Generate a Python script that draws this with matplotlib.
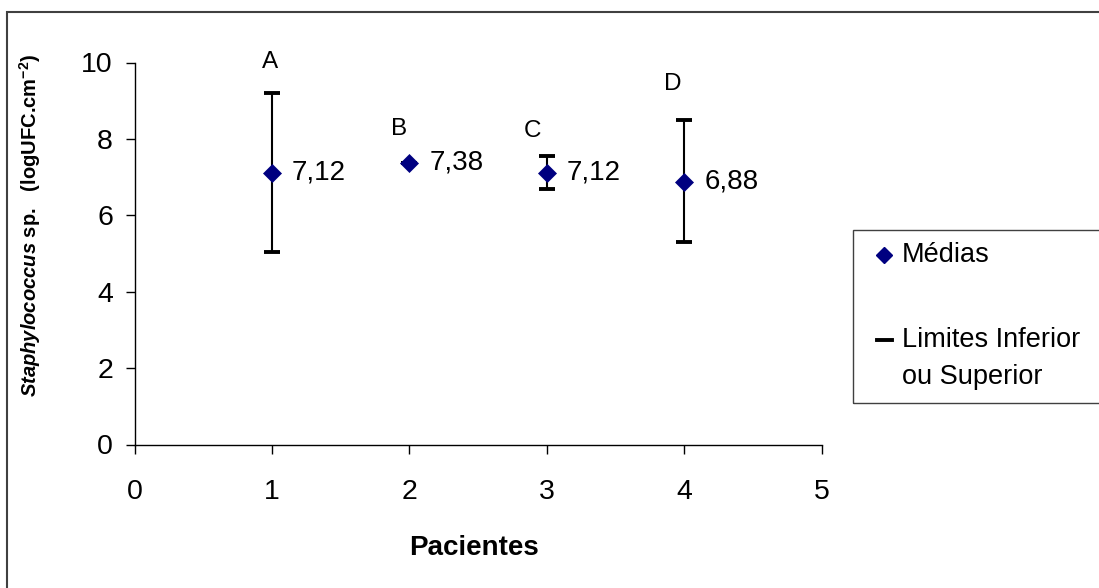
import matplotlib
matplotlib.use("Agg")
import matplotlib.pyplot as plt
from matplotlib.patches import Rectangle
from matplotlib.lines import Line2D

plt.rcParams['font.family'] = ['Liberation Sans', 'DejaVu Sans']
plt.rcParams['mathtext.fontset'] = 'custom'
plt.rcParams['mathtext.rm'] = 'Liberation Sans'
plt.rcParams['mathtext.bf'] = 'Liberation Sans:bold'
plt.rcParams['mathtext.it'] = 'Liberation Sans:italic'
plt.rcParams['mathtext.bfit'] = 'Liberation Sans:bold:italic'

# Dados: médias e limites (logUFC.cm-2) por paciente
pacientes = [1, 2, 3, 4]
letras = ["A", "B", "C", "D"]
medias = [7.12, 7.38, 7.12, 6.88]
lim_sup = [9.20, 7.38, 7.56, 8.50]
lim_inf = [5.05, 7.38, 6.70, 5.30]
rotulos = ["7,12", "7,38", "7,12", "6,88"]

# deslocamento das letras (px) em relação ao topo de cada barra
desl_letra = [(-2, 31), (-10, 34), (-14, 25), (-12, 36)]

W, H = 1099, 588
fig = plt.figure(figsize=(W / 100, H / 100), dpi=100)
ax = fig.add_axes([134.5 / W, 1 - 444.5 / H, (821.7 - 134.5) / W, 382 / H])

navy = '#000080'
err_baixo = [m - li for m, li in zip(medias, lim_inf)]
err_cima = [ls - m for m, ls in zip(medias, lim_sup)]
ax.errorbar(pacientes, medias, yerr=[err_baixo, err_cima], fmt='none',
            ecolor='black', elinewidth=1.5, capsize=6, capthick=2.8, zorder=2)
ax.plot(pacientes, medias, linestyle='none', marker='D', markersize=9.5,
        color=navy, markeredgewidth=0.5, zorder=3)

for x, m, ls, txt, let, (dx, dy) in zip(pacientes, medias, lim_sup, rotulos, letras, desl_letra):
    ax.annotate(txt, xy=(x, m), xytext=(20 * 0.72, 0), textcoords='offset points',
                ha='left', va='center', fontsize=20)
    ax.annotate(let, xy=(x, ls), xytext=(dx * 0.72, dy * 0.72), textcoords='offset points',
                ha='center', va='center', fontsize=17.5)

ax.set_xlim(0, 5)
ax.set_ylim(0, 10)
ax.set_xticks(range(0, 6))
ax.set_yticks(range(0, 11, 2))
for s in ['top', 'right']:
    ax.spines[s].set_visible(False)
for s in ['left', 'bottom']:
    ax.spines[s].set_linewidth(1.0)
ax.tick_params(axis='both', direction='out', length=6.5, width=1.0, labelsize=20.5)
ax.tick_params(axis='y', pad=9)
ax.tick_params(axis='x', pad=18)

fig.text(474 / W, 1 - 548 / H, 'Pacientes', ha='center', va='center',
         fontsize=20, fontweight='bold')
fig.text(30 / W, 1 - 225 / H,
         r'$\mathbfit{Staphylococcus}$ sp.   (logUFC.cm$^{\mathbf{-2}}$)',
         rotation=90, ha='center', va='center', fontsize=14.5, fontweight='bold')

# moldura externa
fig.add_artist(Rectangle((7 / W, -0.05), 1.1, 1 - 12 / H + 0.05, transform=fig.transFigure,
                         fill=False, edgecolor='#404040', linewidth=1.5, clip_on=False))

# legenda
fig.add_artist(Rectangle((853 / W, 1 - 403 / H), 0.3, 173 / H, transform=fig.transFigure,
                         fill=False, edgecolor='#404040', linewidth=1.0, clip_on=False))
fig.add_artist(Line2D([884 / W], [1 - 255 / H], transform=fig.transFigure, marker='D',
                      markersize=8.5, color=navy, linestyle='none'))
fig.add_artist(Line2D([877 / W, 892 / W], [1 - 340 / H] * 2, transform=fig.transFigure,
                      color='black', linewidth=2.8))
fig.text(902 / W, 1 - 255 / H, 'Médias', ha='left', va='center', fontsize=19.5)
fig.text(902 / W, 1 - 340 / H, 'Limites Inferior', ha='left', va='center', fontsize=19.5)
fig.text(902 / W, 1 - 377 / H, 'ou Superior', ha='left', va='center', fontsize=19.5)

fig.savefig('out.png', dpi=100)
